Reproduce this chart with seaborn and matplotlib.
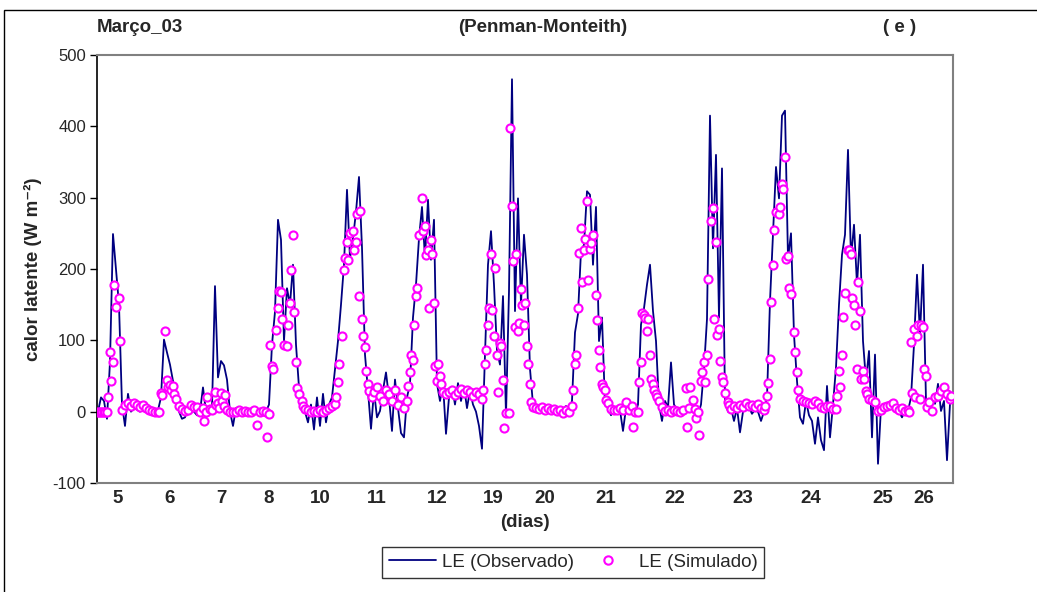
import numpy as np
import pandas as pd
import matplotlib
matplotlib.use("Agg")
import matplotlib.pyplot as plt
from matplotlib.lines import Line2D
from matplotlib.patches import Rectangle
import seaborn as sns

# Fluxo de calor latente observado (W m-2), um valor por passo de tempo
le_observado = [
    0, 20, 15, -10, 70, 249, 199, 150, 10, -20,
    25, 0, 5, 3, 0, 5, 2, -3, -5, 0,
    2, 20, 101, 83, 66, 43, 15, 0, -10, -8,
    5, 5, 0, -5, 0, 34, 0, -5, 5, 176,
    48, 71, 65, 45, 0, -20, 5, 0, 2, -3,
    3, 0, -3, 2, -5, 0, 0, 10, 94, 140,
    269, 241, 99, 173, 150, 206, 94, 34, 11, 0,
    -15, 10, -25, 20, -20, 25, -15, 10, 20, 60,
    99, 150, 206, 311, 215, 243, 280, 329, 230, 80,
    29, -24, 29, -8, 1, 30, 55, 20, -27, 45,
    5, -30, -36, 20, 39, 132, 178, 243, 287, 215,
    297, 213, 269, 39, 15, 39, -31, 20, 35, 10,
    40, 15, 35, 5, 30, 10, 0, -20, -52, 80,
    206, 253, 178, 85, 66, 162, -5, 169, 466, 141,
    299, 150, 248, 192, 60, 10, 5, 5, 10, 3,
    8, 2, 6, 0, 5, 3, 8, 2, 15, 111,
    137, 225, 234, 309, 304, 206, 287, 99, 132, 10,
    5, -5, 3, 0, 2, -27, 5, 0, 3, -3,
    10, 122, 145, 178, 206, 141, 99, 10, -13, 15,
    6, 69, 10, 3, 0, 5, 0, 3, 0, 3,
    -5, 10, 60, 130, 415, 229, 360, 132, 341, 15,
    0, 5, -13, 5, -29, 0, 5, 6, -3, 3,
    0, -13, 0, 20, 155, 248, 343, 299, 415, 422,
    215, 250, 108, 43, -8, -17, 15, -5, -13, -45,
    -8, -40, -54, 36, -36, 10, 62, 150, 220, 248,
    367, 215, 262, 178, 248, 99, 43, 85, -36, 80,
    -73, 6, 10, 5, 8, 5, 3, 0, -8, 1,
    1, 20, 94, 192, 108, 206, 15, 1, 20, 11,
    39, 1, 15, -68, 11, 20,
]

# Calor latente simulado (Penman-Monteith): (passo de tempo, W m-2)
le_simulado = [
    (0, 0), (0.5, 0), (1, 0), (1.5, 0), (2, 0), (2.5, 0), (3, 0),
    (3.5, 20), (4, 84), (4.5, 43), (5, 69), (5.5, 177), (6, 147), (7, 160), (7.5, 99),
    (8, 2), (9, 10), (10, 12), (11, 8), (12, 12), (13, 10), (14, 6), (15, 9), (16, 5),
    (17, 3), (18, 1), (19, 0), (20, 0), (20.5, 0),
    (21, 26), (21.5, 23), (22.5, 113), (23, 45), (23.5, 34), (24, 38), (24.5, 30),
    (25, 36), (25.5, 25), (26, 18), (27, 8), (28, 4), (29, 1), (30, 3), (31, 9),
    (32, 7), (33, 7), (34, 0), (35, 5), (35.5, -13), (36, -1), (36.5, 21), (37.5, 4),
    (38, 3), (39, 28), (39.5, 10), (40, 12), (40.5, 5), (41, 26), (41.5, 15), (42, 8),
    (42.5, 24), (43, 2),
    (44, 0), (45, 0), (46, 0), (47, 2), (48, 0), (49, 1), (50, 0), (51, 0), (52, 2),
    (53, -18), (54, 0), (55, 1), (56, 0),
    (56.5, -36), (57, -3), (57.5, 94), (58, 64), (58.5, 60), (59.5, 114), (60, 146),
    (60.5, 169), (61, 168), (61.5, 130), (62, 94), (63, 92), (63.5, 121), (64, 153),
    (64.5, 199), (65, 248), (65.5, 140), (66, 69), (66.5, 33), (67, 25), (68, 15),
    (68.5, 8), (69, 4),
    (70, 2), (71, 0), (72, 1), (73, 0), (74, 3), (75, 0), (76, 2), (77, 5), (78, 8),
    (79, 11), (79.5, 20), (80, 41), (80.5, 67), (81.5, 106), (82, 199), (82.5, 215),
    (83, 238), (83.5, 212), (84, 250), (85, 253), (85.5, 226), (86, 238), (86.5, 277),
    (87, 162), (87.5, 281), (88, 130), (88.5, 106), (89, 90), (89.5, 57), (90, 39),
    (90.5, 29), (91.5, 20),
    (92, 28), (93, 35), (94, 22), (95, 15), (96, 30), (97, 25), (98, 15), (99, 30),
    (100, 10), (101, 20), (102, 5), (103, 15),
    (103.5, 36), (104, 55), (104.5, 80), (105, 72), (105.5, 121), (106, 162),
    (106.5, 173), (107, 248), (108, 299), (108.5, 253), (109, 260), (109.5, 219),
    (110, 227), (110.5, 146), (111, 241), (111.5, 221), (112, 153), (112.5, 64),
    (113, 43), (113.5, 67), (114, 50), (114.5, 39), (115, 27),
    (116, 25), (117, 28), (118, 30), (119, 24), (120, 28), (121, 32), (122, 26),
    (123, 30), (124, 27), (125, 22), (126, 28), (127, 25), (128, 18),
    (128.5, 30), (129, 67), (129.5, 87), (130, 121), (130.5, 146), (131, 221),
    (131.5, 143), (132, 106), (132.5, 201), (133, 80), (133.5, 28), (134, 96),
    (134.5, 92), (135, 45), (135.5, -23), (136, -2), (137, -2), (137.5, 397),
    (138, 289), (138.5, 211), (139, 118), (139.5, 221), (140, 113), (140.5, 125),
    (141, 172), (141.5, 150), (142, 121), (142.5, 153), (143, 92), (143.5, 67),
    (144, 39), (144.5, 13), (145, 6),
    (146, 5), (147, 4), (148, 6), (149, 3), (150, 5), (151, 2), (152, 4), (153, 1),
    (154, 3), (155, -2), (156, 2), (157, 0),
    (158, 8), (158.5, 30), (159, 67), (159.5, 80), (160, 146), (160.5, 223),
    (161, 257), (161.5, 182), (162, 227), (162.5, 242), (163, 295), (163.5, 184),
    (164, 228), (164.5, 237), (165, 248), (166, 164), (166.5, 128), (167, 87),
    (167.5, 62), (168, 39), (168.5, 34), (169, 31), (169.5, 16), (170, 12),
    (171, 4), (172, 2), (173, 3), (174, 5), (175, 2), (176, 13), (177, 3), (178, 8),
    (178.5, -21), (179, 0), (180, -1),
    (180.5, 42), (181, 69), (181.5, 139), (182, 135), (182.5, 132), (183, 113),
    (183.5, 130), (184, 80), (184.5, 46), (185, 39), (185.5, 30), (186, 25),
    (186.5, 20), (187, 15),
    (188, 6), (189, 1), (190, 2), (191, 0), (192, 3), (193, 1), (194, 0), (195, 2),
    (196, 33), (196.5, -21), (197, 5), (197.5, 34), (198.5, 16), (199, 4),
    (199.5, -9), (200, -1), (200.5, -33),
    (201, 43), (201.5, 55), (202, 69), (202.5, 41), (203, 80), (203.5, 186),
    (204.5, 267), (205, 286), (205.5, 130), (206, 238), (206.5, 108), (207, 116),
    (207.5, 71), (208, 48), (208.5, 42), (209, 26), (210, 14), (210.5, 10),
    (211, 4), (212, 8), (213, 5), (214, 10), (215, 7), (216, 12), (217, 8), (218, 10),
    (219, 6), (220, 11), (221, 5), (222, 3), (222.5, 8),
    (223, 22), (223.5, 40), (224, 74), (224.5, 154), (225, 206), (225.5, 255),
    (226, 280), (227, 277), (227.5, 287), (228, 319), (228.5, 312), (229, 357),
    (229.5, 214), (230, 218), (230.5, 174), (231, 165), (232, 111), (232.5, 84),
    (233, 55), (233.5, 30), (234, 18),
    (235, 15), (236, 14), (237, 12), (238, 11), (239, 15), (240, 12), (241, 6),
    (242, 5), (243, 8), (244, 8), (245, 4), (246, 4),
    (246.5, 22), (247, 57), (247.5, 34), (248, 79), (248.5, 133), (249, 167),
    (250, 226), (250.5, 226), (251, 221), (251.5, 160), (252, 149), (252.5, 122),
    (253, 60), (253.5, 182), (254, 141), (254.5, 46), (255, 57), (255.5, 46),
    (256, 29), (256.5, 25), (257, 18),
    (258, 16), (259, 13), (260, 1), (261, 2), (262, 6), (263, 8), (264, 10),
    (265, 12), (266, 5), (267, 3), (268, 5), (269, 1), (270, 2), (270.5, 0),
    (271, 98), (271.5, 26), (272, 116), (272.5, 21), (273, 106), (273.5, 121),
    (274, 18), (274.5, 121), (275, 118), (275.5, 60), (276, 50), (276.5, 6),
    (277, 13), (278, 1), (279, 20), (280, 22), (281, 29), (282, 35), (283, 25),
    (284, 18), (284.5, 22),
]

# Rótulos dos dias no eixo horizontal e o passo de tempo onde ficam
dias_rotulos = ["5", "6", "7", "8", "10", "11", "12", "19", "20", "21",
                "22", "23", "24", "25", "26"]
dias_passo = [6.7, 24, 41, 57, 74, 93, 113, 131.7, 149, 169.3,
              192.3, 215, 237.7, 261.7, 275.3]

y_ticks = [-100, 0, 100, 200, 300, 400, 500]

df_obs = pd.DataFrame({"passo": np.arange(len(le_observado)), "LE": le_observado})
df_sim = pd.DataFrame(le_simulado, columns=["passo", "LE"])

sns.set_style("ticks")
plt.rcParams["font.family"] = ["Liberation Sans", "DejaVu Sans"]

W, H = 1037, 592
fig = plt.figure(figsize=(W / 100, H / 100), dpi=100)
fig.patch.set_facecolor("white")
ax = fig.add_axes([97 / W, 1 - 483 / H, (953 - 97) / W, (483 - 55) / H])

sns.lineplot(data=df_obs, x="passo", y="LE", ax=ax, color="#000080",
             linewidth=1.3, legend=False, zorder=2)
sns.scatterplot(data=df_sim, x="passo", y="LE", ax=ax, marker="o", s=34,
                facecolor="white", edgecolor="#FF00FF", linewidth=1.5,
                legend=False, zorder=3)

ax.set_xlim(-0.33, 285)
ax.set_ylim(-100, 500)
ax.set_yticks(y_ticks)
ax.set_yticklabels([str(v) for v in y_ticks], fontsize=12)
ax.set_xticks(dias_passo)
ax.set_xticklabels(dias_rotulos, fontsize=13.5, fontweight="bold")
ax.tick_params(axis="x", length=0, pad=5)
ax.tick_params(axis="y", length=5, width=1, color="black", pad=3, direction="out")

for side in ["top", "right", "bottom"]:
    ax.spines[side].set_visible(True)
    ax.spines[side].set_color("#808080")
    ax.spines[side].set_linewidth(1.5)
ax.spines["left"].set_color("black")
ax.spines["left"].set_linewidth(1.2)

ax.set_xlabel("(dias)", fontsize=13.5, fontweight="bold", labelpad=5)
ax.set_ylabel("calor latente (W m\u207b\u00b2)", fontsize=13.5, fontweight="bold",
              labelpad=8)

fig.text(97 / W, 1 - 27 / H, "Março_03", fontsize=13.5, fontweight="bold",
         ha="left", va="center")
fig.text(543 / W, 1 - 27 / H, "(Penman-Monteith)", fontsize=13.5,
         fontweight="bold", ha="center", va="center")
fig.text(900 / W, 1 - 27 / H, "( e )", fontsize=13.5, fontweight="bold",
         ha="center", va="center")

handles = [
    Line2D([], [], color="#000080", linewidth=1.3),
    Line2D([], [], linestyle="none", marker="o", markersize=6,
           markerfacecolor="white", markeredgecolor="#FF00FF",
           markeredgewidth=1.5),
]
leg = fig.legend(handles, ["LE (Observado)", "LE (Simulado)"], ncol=2,
                 loc="center", bbox_to_anchor=(573 / W, 1 - 562 / H),
                 fontsize=13.5, frameon=True, fancybox=False,
                 handlelength=2.5, columnspacing=0.55, handletextpad=0.37,
                 borderpad=0.37)
leg.get_frame().set_edgecolor("black")
leg.get_frame().set_linewidth(1.0)

fig.add_artist(Rectangle((4 / W, -0.1), 2.0, 1.1 - 10 / H,
                         transform=fig.transFigure, fill=False,
                         edgecolor="black", linewidth=1.0, clip_on=False))

fig.savefig("out.png", dpi=100)
